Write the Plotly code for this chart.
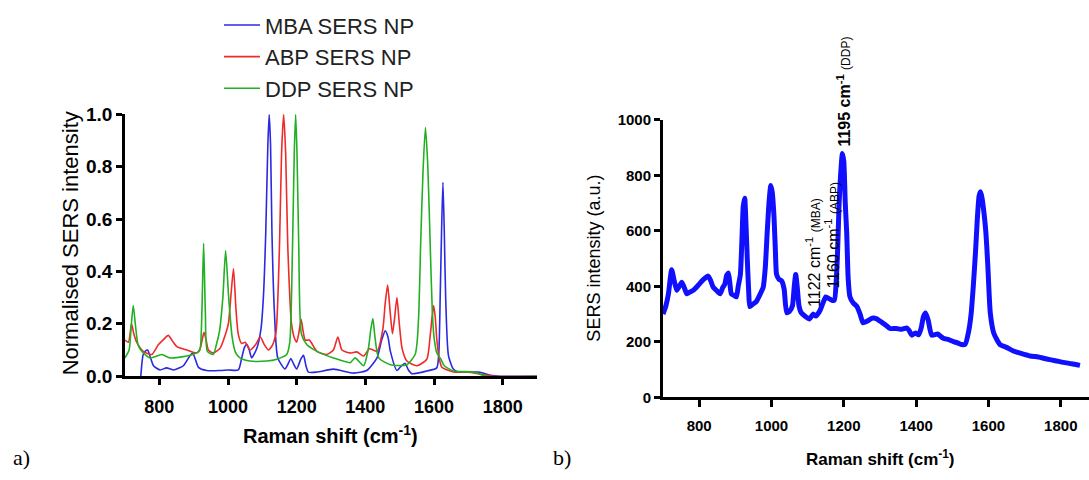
import plotly.graph_objects as go

# ---------------- Panel a) normalised spectra ----------------
mba_x = [746, 753, 760, 766, 772, 783, 802, 821, 841, 870, 885, 897, 906, 914, 938, 977, 1001, 1030, 1040,
         1048, 1055, 1062, 1069, 1084, 1096, 1103, 1110, 1116, 1120, 1124, 1128, 1135, 1145, 1166, 1176, 1183,
         1190, 1200, 1212, 1220, 1227, 1234, 1259, 1307, 1366, 1404, 1434, 1448, 1458, 1466, 1473, 1492, 1505,
         1516, 1525, 1535, 1579, 1608, 1614, 1618, 1622, 1626, 1630, 1634, 1642, 1655, 1667, 1696, 1730, 1764,
         1793, 1900]
mba_y = [0.0, 0.083, 0.097, 0.10, 0.08, 0.04, 0.024, 0.032, 0.024, 0.04, 0.07, 0.089, 0.06, 0.034, 0.022, 0.022,
         0.024, 0.024, 0.07, 0.11, 0.122, 0.10, 0.07, 0.107, 0.18, 0.30, 0.55, 0.88, 1.0, 0.88, 0.55, 0.25, 0.07,
         0.028, 0.05, 0.068, 0.05, 0.028, 0.065, 0.08, 0.04, 0.016, 0.016, 0.027, 0.012, 0.022, 0.07, 0.14, 0.173,
         0.15, 0.095, 0.022, 0.04, 0.049, 0.025, 0.01, 0.02, 0.032, 0.09, 0.30, 0.55, 0.74, 0.55, 0.30, 0.08,
         0.03, 0.018, 0.016, 0.016, 0.004, 0.0, 0.0]

abp_x = [700, 710, 719, 726, 734, 753, 778, 797, 812, 826, 838, 851, 880, 909, 919, 925, 930, 936, 943, 957,
         977, 990, 1001, 1008, 1016, 1023, 1030, 1040, 1050, 1064, 1080, 1094, 1106, 1118, 1130, 1140, 1150,
         1156, 1162, 1168, 1174, 1185, 1195, 1200, 1207, 1213, 1219, 1225, 1237, 1259, 1288, 1307, 1320, 1332,
         1356, 1375, 1395, 1412, 1434, 1451, 1458, 1465, 1472, 1479, 1485, 1492, 1499, 1507, 1521, 1550, 1579,
         1589, 1594, 1599, 1604, 1608, 1615, 1623, 1657, 1696, 1745, 1774, 1900]
abp_y = [0.138, 0.13, 0.20, 0.16, 0.13, 0.095, 0.083, 0.12, 0.14, 0.156, 0.135, 0.113, 0.10, 0.089, 0.107,
         0.14, 0.168, 0.14, 0.10, 0.089, 0.107, 0.15, 0.20, 0.30, 0.41, 0.26, 0.16, 0.125, 0.13, 0.10, 0.12,
         0.15, 0.12, 0.10, 0.12, 0.17, 0.50, 0.85, 1.0, 0.85, 0.50, 0.20, 0.14, 0.13, 0.17, 0.217, 0.17, 0.138,
         0.138, 0.095, 0.083, 0.10, 0.15, 0.10, 0.089, 0.093, 0.077, 0.105, 0.095, 0.18, 0.28, 0.348, 0.25,
         0.162, 0.22, 0.30, 0.20, 0.107, 0.058, 0.04, 0.065, 0.156, 0.22, 0.27, 0.22, 0.144, 0.07, 0.034,
         0.016, 0.016, 0.006, 0.0, 0.0]

ddp_x = [700, 712, 718, 724, 730, 738, 749, 773, 807, 831, 880, 909, 918, 924, 929, 934, 940, 957, 966, 975,
         985, 993, 1002, 1012, 1022, 1035, 1064, 1113, 1142, 1171, 1180, 1188, 1193, 1197, 1201, 1206, 1214,
         1230, 1259, 1307, 1356, 1370, 1395, 1409, 1416, 1422, 1428, 1439, 1473, 1521, 1545, 1550, 1556, 1561,
         1568, 1575, 1582, 1589, 1595, 1600, 1608, 1620, 1630, 1657, 1715, 1754, 1900]
ddp_y = [0.07, 0.10, 0.19, 0.27, 0.20, 0.12, 0.095, 0.07, 0.083, 0.07, 0.077, 0.089, 0.10, 0.25, 0.507, 0.25,
         0.095, 0.083, 0.12, 0.17, 0.30, 0.48, 0.30, 0.15, 0.09, 0.07, 0.058, 0.058, 0.065, 0.083, 0.13, 0.50,
         0.85, 1.0, 0.85, 0.50, 0.16, 0.12, 0.095, 0.07, 0.052, 0.07, 0.04, 0.107, 0.18, 0.22, 0.15, 0.07, 0.044,
         0.044, 0.083, 0.12, 0.25, 0.50, 0.78, 0.95, 0.80, 0.50, 0.25, 0.15, 0.09, 0.065, 0.04, 0.02, 0.016,
         0.0, 0.0]

# ---------------- Panel b) mixture spectrum ----------------
mix_x = [700, 708, 715, 724, 731, 738, 745, 752, 759, 766, 775, 784, 798, 812, 825, 832, 839, 848, 858, 865,
         871, 876, 881, 885, 889, 896, 903, 908, 914, 918, 922, 926, 929, 933, 937, 940, 948, 958, 968, 977,
         983, 988, 993, 998, 1002, 1007, 1011, 1014, 1021, 1028, 1035, 1042, 1050, 1058, 1063, 1067, 1071, 1076,
         1082, 1093, 1105, 1115, 1123, 1133, 1142, 1150, 1160, 1167, 1174, 1179, 1183, 1187, 1191, 1196, 1200,
         1204, 1208, 1212, 1217, 1226, 1236, 1245, 1253, 1265, 1278, 1291, 1305, 1318, 1328, 1345, 1360, 1374,
         1381, 1388, 1398, 1407, 1414, 1420, 1426, 1433, 1443, 1459, 1475, 1490, 1503, 1515, 1526, 1536, 1545,
         1552, 1558, 1564, 1569, 1574, 1578, 1582, 1588, 1593, 1598, 1605, 1615, 1632, 1650, 1669, 1690, 1715,
         1738, 1761, 1785, 1807, 1830, 1853, 1878]
mix_y = [300, 330, 373, 460, 420, 386, 400, 415, 395, 373, 380, 386, 405, 425, 437, 420, 396, 385, 373, 395,
         408, 440, 448, 410, 373, 368, 362, 400, 443, 560, 690, 718, 640, 500, 380, 327, 335, 345, 370, 396,
         470, 592, 700, 764, 740, 650, 520, 443, 425, 420, 390, 305, 310, 330, 400, 443, 400, 330, 305, 292,
         282, 300, 293, 310, 339, 362, 355, 350, 350, 420, 534, 700, 800, 879, 850, 700, 593, 430, 362, 340,
         328, 300, 269, 275, 285, 283, 270, 258, 248, 248, 245, 250, 240, 224, 232, 225, 250, 290, 304, 280,
         224, 228, 213, 208, 201, 196, 190, 192, 236, 300, 400, 520, 640, 725, 741, 720, 660, 592, 480, 304,
         230, 190, 180, 167, 158, 149, 145, 138, 132, 126, 121, 115]

colors = {"MBA": "#2a2ae0", "ABP": "#ee2a2a", "DDP": "#22b022"}

fig = go.Figure()
fig.add_trace(go.Scatter(x=mba_x, y=mba_y, mode="lines", name="MBA SERS NP", legendgroup="a",
                         line=dict(color=colors["MBA"], width=1.6, shape="spline", smoothing=0.6),
                         xaxis="x", yaxis="y"))
fig.add_trace(go.Scatter(x=abp_x, y=abp_y, mode="lines", name="ABP SERS NP", legendgroup="b",
                         line=dict(color=colors["ABP"], width=1.6, shape="spline", smoothing=0.6),
                         xaxis="x", yaxis="y"))
fig.add_trace(go.Scatter(x=ddp_x, y=ddp_y, mode="lines", name="DDP SERS NP", legendgroup="c",
                         line=dict(color=colors["DDP"], width=1.6, shape="spline", smoothing=0.6),
                         xaxis="x", yaxis="y"))
fig.add_trace(go.Scatter(x=mix_x, y=mix_y, mode="lines", name="mixture", showlegend=False,
                         line=dict(color="#1010ff", width=5, shape="spline", smoothing=0.5),
                         xaxis="x2", yaxis="y2"))

axis_common = dict(showline=True, linecolor="black", ticks="outside", tickcolor="black",
                   showgrid=False, zeroline=False)

fig.update_layout(
    width=1089, height=480,
    margin=dict(l=0, r=0, t=0, b=0),
    paper_bgcolor="white", plot_bgcolor="white",
    font=dict(family="Arial, Liberation Sans, sans-serif", color="black"),
    xaxis=dict(domain=[125/1089, 537/1089], range=[700, 1900], tickvals=[800, 1000, 1200, 1400, 1600, 1800],
               linewidth=2.5, tickwidth=2.5, ticklen=6, anchor="y", ticklabelstandoff=6,
               tickfont=dict(size=18, weight="bold"), **axis_common),
    yaxis=dict(domain=[1 - 383/480, 1 - 109/480], range=[0, 1.0], tickvals=[0, 0.2, 0.4, 0.6, 0.8, 1.0],
               tickformat=".1f", linewidth=2.5, tickwidth=2.5, ticklen=6, anchor="x",
               tickfont=dict(size=19, weight="bold"), **axis_common),
    xaxis2=dict(domain=[663/1089, 1.0], range=[700, 1878], tickvals=[800, 1000, 1200, 1400, 1600, 1800],
                linewidth=3, tickwidth=3, ticklen=7, anchor="y2", ticklabelstandoff=6,
                tickfont=dict(size=15, weight="bold"), **axis_common),
    yaxis2=dict(domain=[1 - 405/480, 1 - 115/480], range=[0, 1000], tickvals=[0, 200, 400, 600, 800, 1000],
                linewidth=3, tickwidth=3, ticklen=6, anchor="x2",
                tickfont=dict(size=15, weight="bold"), **axis_common),
    legend=dict(x=219/1089, y=1 + 6/480, xanchor="left", yanchor="top", bgcolor="rgba(0,0,0,0)",
                font=dict(size=22, color="#222"), itemwidth=36, tracegroupgap=0),
    showlegend=True,
)

annotations = [
    dict(text="Normalised SERS intensity", x=70/1089, y=1 - 244/480, textangle=-90, font=dict(size=22)),
    dict(text="<b>Raman shift (cm<sup>-1</sup>)</b>", x=330/1089, y=1 - 444/480, font=dict(size=20)),
    dict(text="SERS intensity (a.u.)", x=594/1089, y=1 - 260/480, textangle=-90, font=dict(size=18)),
    dict(text="<b>Raman shift (cm<sup>-1</sup>)</b>", x=880/1089, y=1 - 468/480, font=dict(size=17)),
    dict(text="a)", x=21/1089, y=1 - 468/480, font=dict(size=22, family="Liberation Serif, Times New Roman, serif")),
    dict(text="b)", x=562/1089, y=1 - 468/480, font=dict(size=22, family="Liberation Serif, Times New Roman, serif")),
]
for a in annotations:
    a.update(xref="paper", yref="paper", showarrow=False, xanchor="center", yanchor="middle")

peak_labels = [
    dict(text="<b>1195 cm<sup>-1</sup></b> <span style='font-size:12px'>(DDP)</span>", x=1198, y=897, size=16),
    dict(text="1122 cm<sup>-1</sup> <span style='font-size:12px'>(MBA)</span>", x=1115, y=317, size=16),
    dict(text="1160 cm<sup>-1</sup> <span style='font-size:12px'>(ABP)</span>", x=1167, y=386, size=16),
]
for p in peak_labels:
    annotations.append(dict(text=p["text"], x=p["x"], y=p["y"], xref="x2", yref="y2", showarrow=False,
                            textangle=-90, xanchor="center", yanchor="bottom", font=dict(size=p["size"])))

fig.update_layout(annotations=annotations)
fig.write_html("out.html")
